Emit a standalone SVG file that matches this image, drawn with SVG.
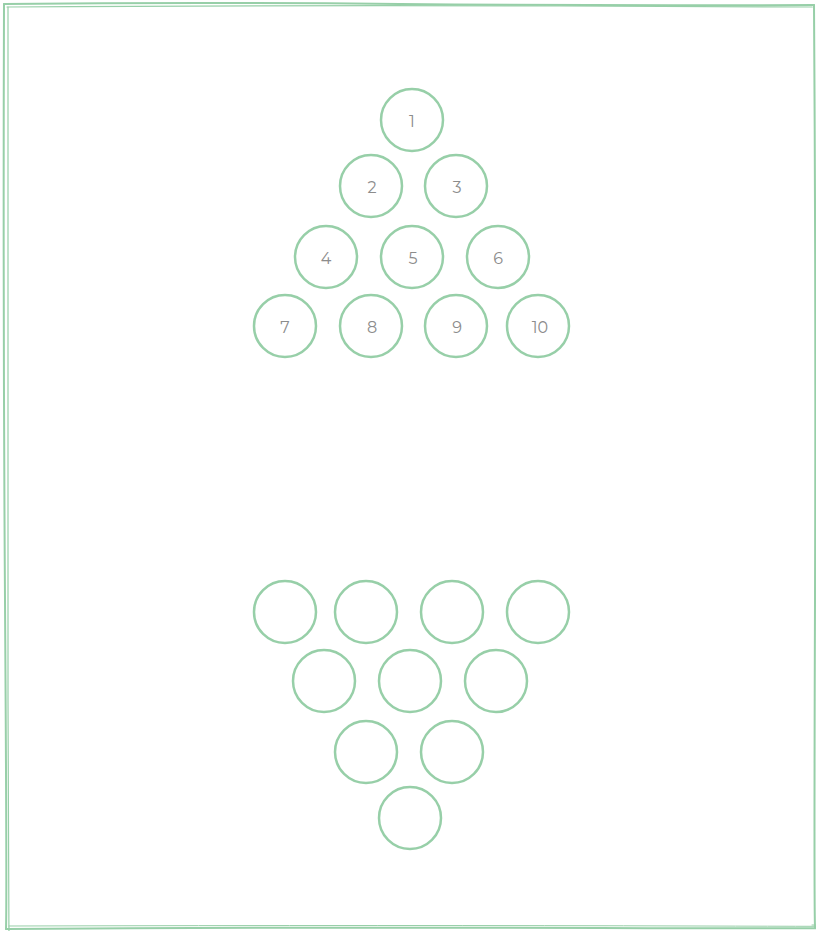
<svg xmlns="http://www.w3.org/2000/svg" width="816" height="931" viewBox="0 0 816 931">
<style>
.c{fill:none;stroke:#97cfa8;stroke-width:2.5}
.t{font-family:"Montserrat","Noto Sans","Liberation Sans",sans-serif;font-size:16px;font-weight:400;fill:#8c8c8c;text-anchor:middle}
.b{fill:none;stroke:#97cfa8;stroke-linecap:round}
</style>
<rect width="816" height="931" fill="#fff"/>
<g id="frame">
<path class="b" stroke-width="2" d="M4 4 Q200 2 400 4 T814 5"/>
<path class="b" stroke-width="1.2" d="M7 7 Q300 5 560 6 T812 7"/>
<path class="b" stroke-width="2" d="M4 4 Q3 300 5 600 T6 929"/>
<path class="b" stroke-width="1.2" d="M8 7 Q7 400 8 700 T9 927"/>
<path class="b" stroke-width="2" d="M6 929 Q300 927 600 928 T815 927"/>
<path class="b" stroke-width="1" d="M9 926 Q400 925 700 926 T812 925"/>
<path class="b" stroke-width="2" d="M814 5 Q816 300 815 600 T815 927"/>
</g>
<g id="top">
<g id="n1"><circle class="c" cx="412" cy="120" r="31"/><text class="t" x="412" y="127">1</text></g>
<g id="n2"><circle class="c" cx="371" cy="186" r="31"/><text class="t" x="372" y="193">2</text></g>
<g id="n3"><circle class="c" cx="456" cy="186" r="31"/><text class="t" x="457" y="193">3</text></g>
<g id="n4"><circle class="c" cx="326" cy="257" r="31"/><text class="t" x="326" y="264">4</text></g>
<g id="n5"><circle class="c" cx="412" cy="257" r="31"/><text class="t" x="413" y="264">5</text></g>
<g id="n6"><circle class="c" cx="498" cy="257" r="31"/><text class="t" x="498" y="264">6</text></g>
<g id="n7"><circle class="c" cx="285" cy="326" r="31"/><text class="t" x="285" y="333">7</text></g>
<g id="n8"><circle class="c" cx="371" cy="326" r="31"/><text class="t" x="372" y="333">8</text></g>
<g id="n9"><circle class="c" cx="456" cy="326" r="31"/><text class="t" x="457" y="333">9</text></g>
<g id="n10"><circle class="c" cx="538" cy="326" r="31"/><text class="t" x="540" y="333">10</text></g>
</g>
<g id="bottom">
<g id="m1"><circle class="c" cx="285" cy="612" r="31"/></g>
<g id="m2"><circle class="c" cx="366" cy="612" r="31"/></g>
<g id="m3"><circle class="c" cx="452" cy="612" r="31"/></g>
<g id="m4"><circle class="c" cx="538" cy="612" r="31"/></g>
<g id="m5"><circle class="c" cx="324" cy="681" r="31"/></g>
<g id="m6"><circle class="c" cx="410" cy="681" r="31"/></g>
<g id="m7"><circle class="c" cx="496" cy="681" r="31"/></g>
<g id="m8"><circle class="c" cx="366" cy="752" r="31"/></g>
<g id="m9"><circle class="c" cx="452" cy="752" r="31"/></g>
<g id="m10"><circle class="c" cx="410" cy="818" r="31"/></g>
</g>
</svg>
